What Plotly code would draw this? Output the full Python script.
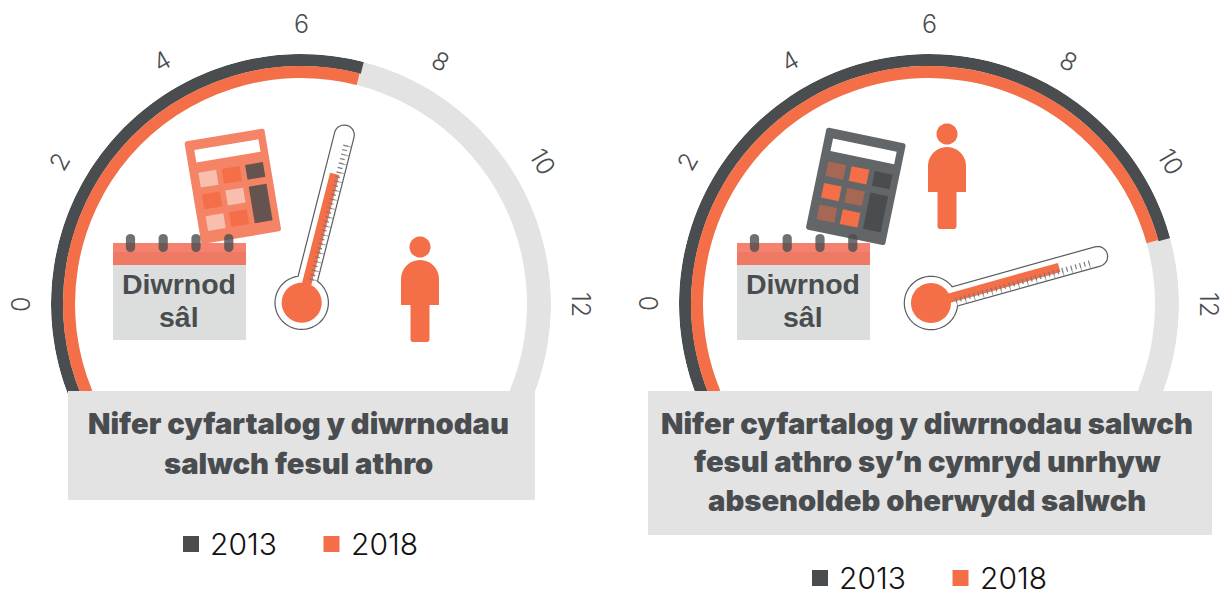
import math
import plotly.graph_objects as go

W, H = 1223, 591
DARK = "#4a4d4f"
ORANGE = "#f46e47"
TRACK = "#e3e3e3"

# ---- data
series_names = ["2013", "2018"]
left_values = [6.97, 6.95]
right_values = [10.98, 10.96]
tick_values = [0, 2, 4, 6, 8, 10, 12]
left_title = ["Nifer cyfartalog y diwrnodau", "salwch fesul athro"]
right_title = ["Nifer cyfartalog y diwrnodau salwch", "fesul athro sy\u2019n cymryd unrhyw", "absenoldeb oherwydd salwch"]
calendar_text = ["Diwrnod", "s\u00e2l"]

GAUGE_START, GAUGE_END = -1.5, 13.5
DEG = 15.0
LABEL_NUDGE = {2: 0.6, 4: 0.2, 8: -0.2, 10: -0.6}


def px(x):
    return x / W


def py(y):
    return 1 - y / H


shapes, annotations = [], []


def poly(points, fill=None, line=None, lw=0, opacity=None, close=True):
    d = "M" + " L".join(f"{px(x):.6f},{py(y):.6f}" for x, y in points) + (" Z" if close else "")
    s = dict(type="path", xref="paper", yref="paper", path=d, layer="above",
             fillcolor=fill or "rgba(0,0,0,0)", line=dict(color=line or "rgba(0,0,0,0)", width=lw))
    if opacity is not None:
        s["opacity"] = opacity
    shapes.append(s)


def rect(x0, y0, x1, y1, fill):
    shapes.append(dict(type="rect", xref="paper", yref="paper", layer="above", x0=px(x0), x1=px(x1),
                       y0=py(y1), y1=py(y0), fillcolor=fill, line=dict(width=0)))


def rrect_pts(x0, y0, x1, y1, r, n=6):
    pts = []
    for cx, cy, a0 in [(x1 - r, y0 + r, -90), (x1 - r, y1 - r, 0), (x0 + r, y1 - r, 90), (x0 + r, y0 + r, 180)]:
        for i in range(n + 1):
            a = math.radians(a0 + 90 * i / n)
            pts.append((cx + r * math.cos(a), cy + r * math.sin(a)))
    return pts


def text(x, y, s, size, color=DARK, family="Inter", weight=400, angle=0):
    annotations.append(dict(xref="paper", yref="paper", x=px(x), y=py(y), text=s, showarrow=False,
                            xanchor="center", yanchor="middle", textangle=angle,
                            font=dict(family=family, size=size, color=color, weight=weight)))


def circle_pts(cx, cy, r, n=48):
    return [(cx + r * math.cos(2 * math.pi * i / n), cy + r * math.sin(2 * math.pi * i / n)) for i in range(n)]


def calculator(ox, oy, deg, body, light, mid, dark):
    c, s = math.cos(math.radians(deg)), math.sin(math.radians(deg))
    T = lambda u, v: (ox + u * c - v * s, oy + u * s + v * c)
    poly([T(*p) for p in rrect_pts(0, 0, 81, 104, 2.5)], fill=body)
    R = lambda u0, v0, u1, v1, col: poly([T(u0, v0), T(u1, v0), T(u1, v1), T(u0, v1)], fill=col)
    R(8.5, 9.8, 73.5, 22.5, "#ffffff")
    cols = [8.7, 32.4, 56.1]
    rows = [33, 55, 77]
    pattern = [[light, mid, dark], [mid, light, None], [light, mid, None]]
    for j, row in enumerate(pattern):
        for i, col in enumerate(row):
            if col:
                R(cols[i], rows[j], cols[i] + 18, rows[j] + 15, col)
    R(cols[2], rows[1], cols[2] + 18, rows[2] + 15, dark)


def calendar(x0):
    rect(x0, 243, x0 + 133, 252, "#f5826e")
    rect(x0, 252, x0 + 133, 265, "#ee7a66")
    rect(x0, 265, x0 + 133, 340, "#dcdedd")
    for dx in (17.5, 50.2, 83, 115.8):
        poly(rrect_pts(x0 + dx - 4.6, 234, x0 + dx + 4.6, 252, 4.5), fill="rgba(74,77,79,0.8)")
    text(x0 + 66, 284, calendar_text[0], 28.5, family="Liberation Sans", weight=700)
    text(x0 + 66, 317, calendar_text[1], 28.5, family="Liberation Sans", weight=700)


def thermometer(cx, cy, value):
    th = math.radians(DEG * (value - 6))
    d = (math.sin(th), -math.cos(th))
    n = (math.cos(th), math.sin(th))
    T = lambda u, v: (cx + u * d[0] + v * n[0], cy + u * d[1] + v * n[1])
    R0, hw, capu = 26.7, 10.0, 173.0
    a0 = math.asin(hw / R0)
    pts = []
    for i in range(61):
        a = a0 + (2 * math.pi - 2 * a0) * i / 60
        pts.append(T(R0 * math.cos(a), R0 * math.sin(a)))
    for i in range(21):
        a = -math.pi / 2 + math.pi * i / 20
        pts.append(T(capu + hw * math.cos(a), hw * math.sin(a)))
    poly(pts, fill="#ffffff", line="#5a5c5e", lw=1.2)
    poly([T(0, -4.5), T(133, -4.5), T(133, 5), T(0, 5)], fill=ORANGE)
    poly(circle_pts(*T(0, 0), 20), fill=ORANGE)
    short_ticks, long_ticks = "", ""
    k = 0
    u = 25.0
    while u < 166:
        a, b = T(u, 1.5), T(u, 6.5)
        short_ticks += f"M{px(a[0]):.6f},{py(a[1]):.6f} L{px(b[0]):.6f},{py(b[1]):.6f} "
        if k % 2 == 0:
            b2 = T(u, 10)
            long_ticks += f"M{px(b[0]):.6f},{py(b[1]):.6f} L{px(b2[0]):.6f},{py(b2[1]):.6f} "
        u += 4.6
        k += 1
    shapes.append(dict(type="path", xref="paper", yref="paper", layer="above", path=short_ticks,
                       line=dict(color="#77797b", width=1.2)))
    shapes.append(dict(type="path", xref="paper", yref="paper", layer="above", path=long_ticks,
                       line=dict(color="#8a8c8e", width=0.8)))


def person(cx, top):
    poly(circle_pts(cx, top, 10.5), fill=ORANGE)
    t = top + 13
    pts = []
    for i in range(25):
        a = math.pi + math.pi * i / 24
        pts.append((cx + 19 * math.cos(a), t + 19 + 19 * math.sin(a)))
    pts += [(cx + 19, t + 45), (cx + 9.5, t + 45), (cx + 9.5, t + 80)]
    pts += [(cx + 8, t + 82), (cx - 8, t + 82), (cx - 9.5, t + 80), (cx - 9.5, t + 45), (cx - 19, t + 45)]
    poly(pts, fill=ORANGE)


def legend(x0, yc):
    for name, col, dx in zip(series_names, [DARK, ORANGE], [0, 140.5]):
        rect(x0 + dx, yc - 8, x0 + dx + 16, yc + 8, col)
        text(x0 + dx + 60.5, yc, name, 30, color="#111111", weight=300)


fig = go.Figure()


def gauge(idx, cx, cy, R, values):
    name = "polar" if idx == 1 else f"polar{idx}"
    sub = dict(subplot=name, hoverinfo="skip", showlegend=False)
    fig.add_trace(go.Barpolar(theta=[DEG * (GAUGE_START + GAUGE_END) / 2], width=[DEG * (GAUGE_END - GAUGE_START)],
                              base=[R - 24], r=[24], marker=dict(color=TRACK, line=dict(width=0)),
                              name="scale", **sub))
    for val, col, base, nm in zip(values, [DARK, ORANGE], [R - 12, R - 24], series_names):
        fig.add_trace(go.Barpolar(theta=[DEG * (GAUGE_START + val) / 2], width=[DEG * (val - GAUGE_START)],
                                  base=[base], r=[12], marker=dict(color=col, line=dict(width=0)), name=nm, **sub))
    fig.update_layout(**{name: dict(
        domain=dict(x=[px(cx - R), px(cx + R)], y=[py(cy + R), py(cy - R)]),
        bgcolor="rgba(0,0,0,0)",
        bargap=0,
        radialaxis=dict(visible=False, range=[0, R]),
        angularaxis=dict(visible=False, direction="clockwise", rotation=180),
    )})
    for t in tick_values:
        a = math.radians(DEG * t + LABEL_NUDGE.get(t, 0))
        text(cx - 280 * math.cos(a), cy - 280 * math.sin(a), str(t), 25, weight=300, angle=-90 + DEG * t)


CY = 304
gauge(1, 301, CY, 250, left_values)
gauge(2, 929, CY, 250, right_values)

# panels that hide the foot of each gauge
rect(68, 391, 535, 500, TRACK)
rect(648, 391, 1212, 535, TRACK)
for s, y in zip(left_title, [423, 463]):
    text(298, y, s, 29.2, weight=900)
for s, y in zip(right_title, [423, 461, 500]):
    text(927, y, s, 29.2, weight=900)

calculator(184.3, 141.7, -9.5, "#f58365", "#f9bfae", "#f46e47", "#65534f")
calculator(826.7, 127.3, 11.7, "#636668", "#a86655", "#f46e47", "#4a4d4f")
calendar(113)
calendar(737)
thermometer(301.7, 302.7, left_values[1])
thermometer(931, 303, right_values[1])
person(420, 247)
person(947, 134)
legend(183, 544)
legend(812, 578)

fig.update_layout(width=W, height=H, margin=dict(l=0, r=0, t=0, b=0), autosize=False,
                  paper_bgcolor="#ffffff", plot_bgcolor="#ffffff", shapes=shapes, annotations=annotations)
fig.write_html("out.html", config=dict(displayModeBar=False),
               post_script="document.body.style.margin='0';document.body.style.overflow='hidden';")
